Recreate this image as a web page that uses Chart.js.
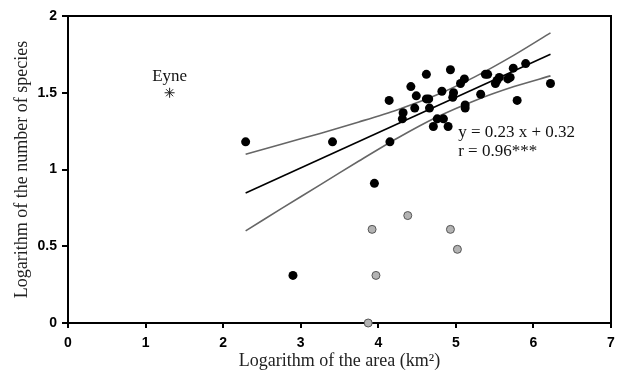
<!DOCTYPE html>
<html>
<head>
<meta charset="utf-8">
<script src="https://cdn.jsdelivr.net/npm/chart.js@4.4.1/dist/chart.umd.min.js"></script>
<style>
  html, body { margin: 0; padding: 0; background: #fff; }
  #wrap { width: 617px; height: 372px; }
</style>
</head>
<body>
<div id="wrap"><canvas id="grafica"></canvas></div>
<script>
// ============================================================
// DATOS — log(área) vs log(nº de especies)
// ============================================================
// Sitios incluidos en la regresión (puntos negros)
const sitiosX = [2.29, 2.90, 3.41, 3.95, 4.14, 4.15, 4.31, 4.32, 4.42, 4.47, 4.49, 4.62, 4.62,
                 4.65, 4.66, 4.71, 4.76, 4.82, 4.84, 4.90, 4.93, 4.96, 4.97, 5.06, 5.11, 5.12,
                 5.12, 5.32, 5.38, 5.41, 5.51, 5.53, 5.56, 5.67, 5.70, 5.74, 5.79, 5.90, 6.22];
const sitiosY = [1.18, 0.31, 1.18, 0.91, 1.45, 1.18, 1.33, 1.37, 1.54, 1.40, 1.48, 1.62, 1.46,
                 1.46, 1.40, 1.28, 1.33, 1.51, 1.33, 1.28, 1.65, 1.47, 1.50, 1.56, 1.59, 1.42,
                 1.40, 1.49, 1.62, 1.62, 1.56, 1.58, 1.60, 1.59, 1.60, 1.66, 1.45, 1.69, 1.56];

// Sitios excluidos (puntos grises)
const grisX = [3.92, 4.38, 4.93, 5.02, 3.97, 3.87];
const grisY = [0.61, 0.70, 0.61, 0.48, 0.31, 0.00];

// Eyne (asterisco)
const eyneX = [1.31];
const eyneY = [1.50];

// Recta de regresión y bandas de confianza
const rectaX    = [2.29, 6.22];
const rectaY    = [0.847, 1.751];
const bandaX    = [2.29, 2.75, 3.25, 3.75, 4.25, 4.75, 5.25, 5.75, 6.22];
const bandaSup  = [1.10, 1.165, 1.235, 1.31, 1.39, 1.485, 1.605, 1.745, 1.89];
const bandaInf  = [0.60, 0.745, 0.90, 1.055, 1.205, 1.34, 1.45, 1.54, 1.61];

const TICKS_X = [0, 1, 2, 3, 4, 5, 6, 7];
const TICKS_Y = [0, 0.5, 1, 1.5, 2];

const aPuntos = (xs, ys) => xs.map((x, i) => ({ x, y: ys[i] }));

// ============================================================
// PLUGIN — marco y textos
// ============================================================
const extras = {
  id: 'extras',
  afterDatasetsDraw(chart) {
    const { ctx, chartArea: a, scales: { x, y } } = chart;
    ctx.save();
    // marco superior y derecho
    ctx.strokeStyle = '#000';
    ctx.lineWidth = 2;
    ctx.beginPath();
    ctx.moveTo(a.left, a.top);
    ctx.lineTo(a.right, a.top);
    ctx.lineTo(a.right, a.bottom);
    ctx.stroke();

    ctx.fillStyle = '#111';
    ctx.font = '17px "Liberation Serif", "Times New Roman", serif';
    ctx.textBaseline = 'alphabetic';
    ctx.textAlign = 'center';
    ctx.fillText('Eyne', x.getPixelForValue(eyneX[0]), y.getPixelForValue(eyneY[0]) - 12);

    ctx.textAlign = 'left';
    const ex = x.getPixelForValue(5.03);
    ctx.font = '17px "Liberation Serif", "Times New Roman", serif';
    ctx.fillText('y = 0.23 x + 0.32', ex, y.getPixelForValue(1.21));
    ctx.fillText('r = 0.96***', ex, y.getPixelForValue(1.09));
    ctx.restore();
  }
};

// ============================================================
// GRÁFICA
// ============================================================
const fuenteTick   = { family: '"Liberation Sans", Arial, sans-serif', size: 14, weight: 'bold' };
const fuenteTitulo = { family: '"Liberation Serif", "Times New Roman", serif', size: 18 };

new Chart(document.getElementById('grafica'), {
  type: 'scatter',
  data: {
    datasets: [
      {
        label: 'Sitios',
        data: aPuntos(sitiosX, sitiosY),
        backgroundColor: '#000',
        borderColor: '#000',
        pointRadius: 4.5,
        borderWidth: 0,
        clip: false,
        order: 1,
      },
      {
        label: 'Excluidos',
        data: aPuntos(grisX, grisY),
        backgroundColor: '#b3b3b3',
        borderColor: '#555',
        borderWidth: 1,
        pointRadius: 4,
        clip: false,
        order: 0,
      },
      {
        label: 'Eyne',
        data: aPuntos(eyneX, eyneY),
        pointStyle: 'star',
        pointRadius: 5,
        borderColor: '#222',
        borderWidth: 1,
        order: 1,
      },
      {
        label: 'Regresión',
        data: aPuntos(rectaX, rectaY),
        showLine: true,
        borderColor: '#000',
        borderWidth: 1.6,
        pointRadius: 0,
        order: 3,
      },
      {
        label: 'IC superior',
        data: aPuntos(bandaX, bandaSup),
        showLine: true,
        borderColor: '#666',
        borderWidth: 1.6,
        pointRadius: 0,
        tension: 0.3,
        order: 4,
      },
      {
        label: 'IC inferior',
        data: aPuntos(bandaX, bandaInf),
        showLine: true,
        borderColor: '#666',
        borderWidth: 1.6,
        pointRadius: 0,
        tension: 0.3,
        order: 4,
      },
    ]
  },
  options: {
    responsive: true,
    maintainAspectRatio: false,
    animation: false,
    events: [],
    layout: { padding: { top: 16, right: 5, left: 0, bottom: 0 } },
    plugins: { legend: { display: false }, tooltip: { enabled: false } },
    scales: {
      x: {
        type: 'linear',
        min: 0, max: 7,
        afterBuildTicks: s => { s.ticks = TICKS_X.map(v => ({ value: v })); },
        afterFit: s => { s.height = 49; s.paddingLeft = 0; s.paddingRight = 0; },
        ticks: { font: fuenteTick, color: '#000', padding: 7, maxRotation: 0 },
        grid: { display: true, drawOnChartArea: false, drawTicks: true, tickLength: 5, color: '#000', lineWidth: 2 },
        border: { display: true, color: '#000', width: 2 },
        title: { display: true, text: 'Logarithm of the area (km²)', font: fuenteTitulo, color: '#222', padding: 0 },
      },
      y: {
        type: 'linear',
        min: 0, max: 2,
        afterBuildTicks: s => { s.ticks = TICKS_Y.map(v => ({ value: v })); },
        afterFit: s => { s.width = 68; s.paddingTop = 0; s.paddingBottom = 0; },
        ticks: { font: fuenteTick, color: '#000', padding: 5, callback: v => String(v) },
        grid: { display: true, drawOnChartArea: false, drawTicks: true, tickLength: 6, color: '#000', lineWidth: 2 },
        border: { display: true, color: '#000', width: 2 },
        title: { display: true, text: 'Logarithm of the number of species', font: fuenteTitulo, color: '#222', padding: { top: 11, bottom: 0 } },
      }
    }
  },
  plugins: [extras]
});
</script>
</body>
</html>
